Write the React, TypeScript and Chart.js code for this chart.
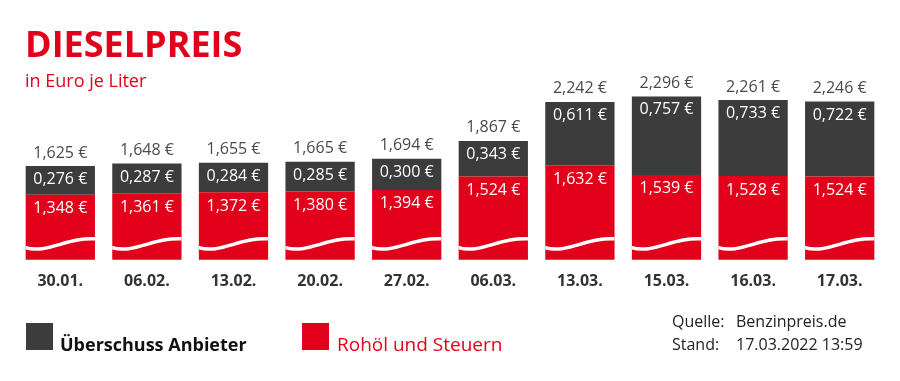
import { useEffect, useRef } from 'react';
import { Chart, registerables } from 'chart.js';

Chart.register(...registerables);

const categories = ['30.01.', '06.02.', '13.02.', '20.02.', '27.02.', '06.03.', '13.03.', '15.03.', '16.03.', '17.03.'];
const rohoelUndSteuern = [1.348, 1.361, 1.372, 1.38, 1.394, 1.524, 1.632, 1.539, 1.528, 1.524];
const ueberschussAnbieter = [0.276, 0.287, 0.284, 0.285, 0.3, 0.343, 0.611, 0.757, 0.733, 0.722];
const gesamtpreis = [1.625, 1.648, 1.655, 1.665, 1.694, 1.867, 2.242, 2.296, 2.261, 2.246];
const axisMin = 0.72;
const axisMax = 2.3;

const titleText = 'DIESELPREIS';
const subtitleText = 'in Euro je Liter';
const seriesLabels = ['Rohöl und Steuern', 'Überschuss Anbieter'];
const sourceLabels = ['Quelle:', 'Stand:'];
const sourceValues = ['Benzinpreis.de', '17.03.2022 13:59'];

const RED = '#e2001a';
const GRAY = '#3c3c3c';
const FONT = '"Open Sans", "Noto Sans", sans-serif';

const fmt = (v: number) => v.toFixed(3).replace('.', ',') + ' €';

const decorPlugin = {
  id: 'decor',
  afterDatasetsDraw(chart: any) {
    const ctx: CanvasRenderingContext2D = chart.ctx;
    const area = chart.chartArea;
    const redMeta = chart.getDatasetMeta(0);
    const grayMeta = chart.getDatasetMeta(1);
    ctx.save();
    // wave (axis break) in the red bars
    redMeta.data.forEach((bar: any) => {
      const { x, width } = bar.getProps(['x', 'width'], true);
      const left = x - width / 2;
      const right = x + width / 2;
      const b = area.bottom;
      ctx.save();
      ctx.beginPath();
      ctx.rect(left, area.top - 40, width, b - area.top + 40);
      ctx.clip();
      ctx.beginPath();
      ctx.moveTo(left - 1, b - 12.5);
      ctx.bezierCurveTo(left + width * 0.3, b - 5, left + width * 0.6, b - 23, right + 1, b - 21);
      ctx.strokeStyle = '#ffffff';
      ctx.lineWidth = 3.5;
      ctx.stroke();
      ctx.restore();
    });
    // value labels
    ctx.textAlign = 'center';
    ctx.textBaseline = 'middle';
    ctx.font = `16px ${FONT}`;
    redMeta.data.forEach((bar: any, i: number) => {
      const { x, y } = bar.getProps(['x', 'y'], true);
      ctx.fillStyle = '#ffffff';
      ctx.fillText(fmt(chart.data.datasets[0].data[i]), x, y + 14);
    });
    grayMeta.data.forEach((bar: any, i: number) => {
      const { x, y } = bar.getProps(['x', 'y'], true);
      ctx.fillStyle = '#ffffff';
      ctx.fillText(fmt(chart.data.datasets[1].data[i]), x, y + 13.5);
      ctx.fillStyle = '#4a4a4a';
      ctx.fillText(fmt(gesamtpreis[i]), x, y - 13);
    });
    ctx.restore();
  },
  afterDraw(chart: any) {
    const ctx: CanvasRenderingContext2D = chart.ctx;
    ctx.save();
    ctx.textAlign = 'left';
    ctx.textBaseline = 'alphabetic';
    // header
    ctx.fillStyle = RED;
    ctx.font = `bold 36px ${FONT}`;
    ctx.fillText(titleText, 25, 57);
    ctx.font = `18px ${FONT}`;
    ctx.fillText(subtitleText, 25, 87);
    // legend
    const ds = chart.data.datasets;
    ctx.fillStyle = ds[1].backgroundColor;
    ctx.fillRect(26, 323, 27, 27);
    ctx.fillStyle = '#111111';
    ctx.font = `bold 18px ${FONT}`;
    ctx.fillText(ds[1].label, 60, 351);
    ctx.fillStyle = ds[0].backgroundColor;
    ctx.fillRect(302, 323, 27, 27);
    ctx.font = `19px ${FONT}`;
    ctx.fillText(ds[0].label, 337, 351);
    // source
    ctx.fillStyle = '#222222';
    ctx.font = `16px ${FONT}`;
    ctx.fillText(sourceLabels[0], 672, 327);
    ctx.fillText(sourceValues[0], 736, 327);
    ctx.fillText(sourceLabels[1], 672, 350);
    ctx.fillText(sourceValues[1], 736, 350);
    ctx.restore();
  },
};

export default function App() {
  const ref = useRef<HTMLCanvasElement | null>(null);
  useEffect(() => {
    if (!ref.current) return;
    const chart = new Chart(ref.current, {
      type: 'bar',
      data: {
        labels: categories,
        datasets: [
          {
            label: seriesLabels[0],
            data: rohoelUndSteuern,
            backgroundColor: RED,
            borderWidth: 0,
            barPercentage: 0.8,
            categoryPercentage: 1.0,
          },
          {
            label: seriesLabels[1],
            data: ueberschussAnbieter,
            backgroundColor: GRAY,
            borderWidth: 0,
            barPercentage: 0.8,
            categoryPercentage: 1.0,
          },
        ],
      },
      options: {
        animation: false,
        responsive: true,
        maintainAspectRatio: false,
        layout: { padding: { top: 96, left: 17, right: 17, bottom: 78 } },
        plugins: {
          legend: { display: false },
          title: { display: false },
          tooltip: { enabled: false },
        },
        scales: {
          x: {
            stacked: true,
            grid: { display: false, drawTicks: false },
            border: { display: false },
            ticks: { color: '#333333', font: { family: FONT, size: 16, weight: 'bold' }, padding: 12 },
          },
          y: { stacked: true, display: false, min: axisMin, max: axisMax },
        },
      },
      plugins: [decorPlugin],
    });
    return () => chart.destroy();
  }, []);
  return (
    <div style={{ position: 'fixed', left: 0, top: 0, width: 900, height: 381, background: '#ffffff' }}>
      <canvas ref={ref} />
    </div>
  );
}
